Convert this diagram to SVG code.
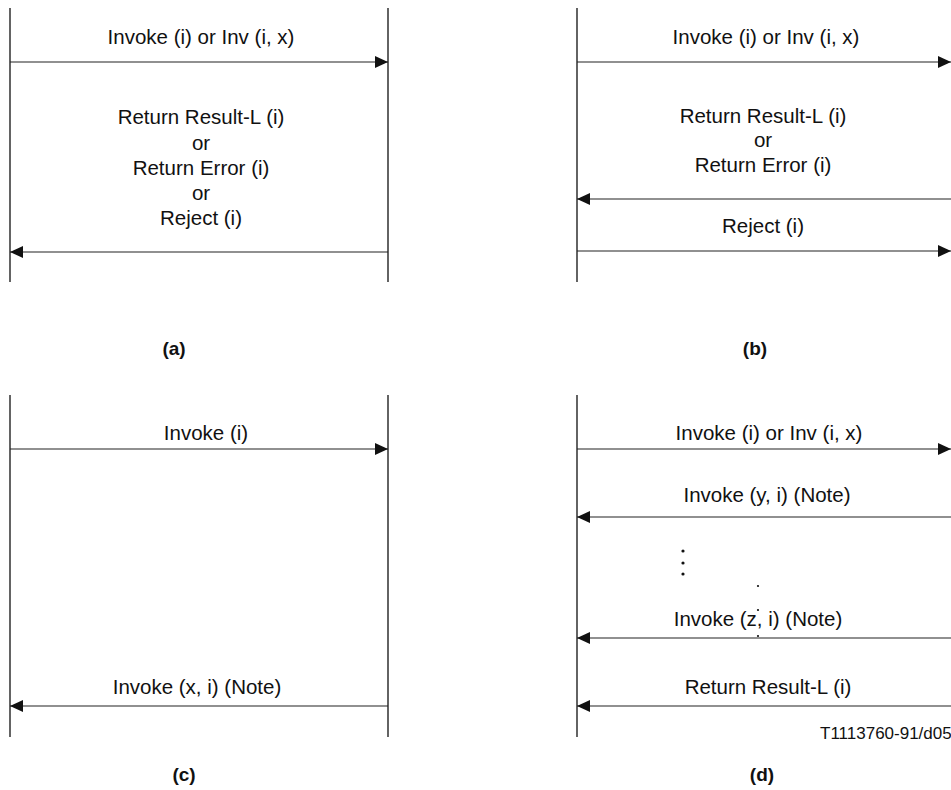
<svg xmlns="http://www.w3.org/2000/svg" width="951" height="790" viewBox="0 0 951 790">
<style>
.life{stroke:#222;stroke-width:1.4;fill:none}
.msg{stroke:#222;stroke-width:1.1;fill:none;marker-end:url(#ah)}
text{font-family:"Liberation Sans",Arial,sans-serif;font-size:20.5px;fill:#111;text-anchor:middle}
.lbl{font-weight:bold;font-size:19px}
.ref{font-size:17px;text-anchor:start}
.dot{fill:#111}
</style>
<defs>
<marker id="ah" markerUnits="userSpaceOnUse" markerWidth="14" markerHeight="12" refX="13" refY="6" orient="auto">
<path d="M0,0 L13,6 L0,12 z" fill="#111"/>
</marker>
</defs>
<rect width="951" height="790" fill="#fff"/>

<g id="panel-a">
<line class="life" x1="10" y1="8" x2="10" y2="282"/>
<line class="life" x1="388" y1="8" x2="388" y2="282"/>
<text x="201" y="44">Invoke (i) or Inv (i, x)</text>
<text x="201" y="124">Return Result-L (i)</text>
<text x="201" y="149.5">or</text>
<text x="201" y="174.5">Return Error (i)</text>
<text x="201" y="199.5">or</text>
<text x="201" y="224.5">Reject (i)</text>
<text class="lbl" x="174" y="355">(a)</text>
</g>

<g id="panel-b">
<line class="life" x1="577" y1="8" x2="577" y2="282"/>
<text x="766" y="44">Invoke (i) or Inv (i, x)</text>
<text x="763" y="122.5">Return Result-L (i)</text>
<text x="763" y="147">or</text>
<text x="763" y="171.5">Return Error (i)</text>
<text x="763" y="233">Reject (i)</text>
<text class="lbl" x="755" y="355">(b)</text>
</g>

<g id="panel-c">
<line class="life" x1="10" y1="395" x2="10" y2="737"/>
<line class="life" x1="388" y1="395" x2="388" y2="737"/>
<text x="206" y="440">Invoke (i)</text>
<text x="197" y="694">Invoke (x, i) (Note)</text>
<text class="lbl" x="184" y="781">(c)</text>
</g>

<g id="panel-d">
<line class="life" x1="577" y1="395" x2="577" y2="737"/>
<text x="769" y="440">Invoke (i) or Inv (i, x)</text>
<text x="767" y="502">Invoke (y, i) (Note)</text>
<circle class="dot" cx="683" cy="551" r="1.6"/>
<circle class="dot" cx="683" cy="563" r="1.6"/>
<circle class="dot" cx="683" cy="574" r="1.6"/>
<circle class="dot" cx="758" cy="586" r="1.1"/>
<circle class="dot" cx="758" cy="610" r="1.1"/>
<circle class="dot" cx="758" cy="636" r="1.1"/>
<text x="758" y="626">Invoke (z, i) (Note)</text>
<text x="768" y="694">Return Result-L (i)</text>
<text class="ref" x="820" y="739">T1113760-91/d05</text>
<text class="lbl" x="762" y="781">(d)</text>
</g>

<g id="connectors">
<line class="msg" x1="10" y1="62" x2="388" y2="62"/>
<line class="msg" x1="388" y1="252" x2="10" y2="252"/>
<line class="msg" x1="577" y1="62" x2="951" y2="62"/>
<line class="msg" x1="951" y1="199" x2="577" y2="199"/>
<line class="msg" x1="577" y1="251" x2="951" y2="251"/>
<line class="msg" x1="10" y1="449" x2="388" y2="449"/>
<line class="msg" x1="388" y1="706" x2="10" y2="706"/>
<line class="msg" x1="577" y1="449" x2="951" y2="449"/>
<line class="msg" x1="951" y1="517" x2="577" y2="517"/>
<line class="msg" x1="951" y1="638" x2="577" y2="638"/>
<line class="msg" x1="951" y1="706" x2="577" y2="706"/>
</g>
</svg>
